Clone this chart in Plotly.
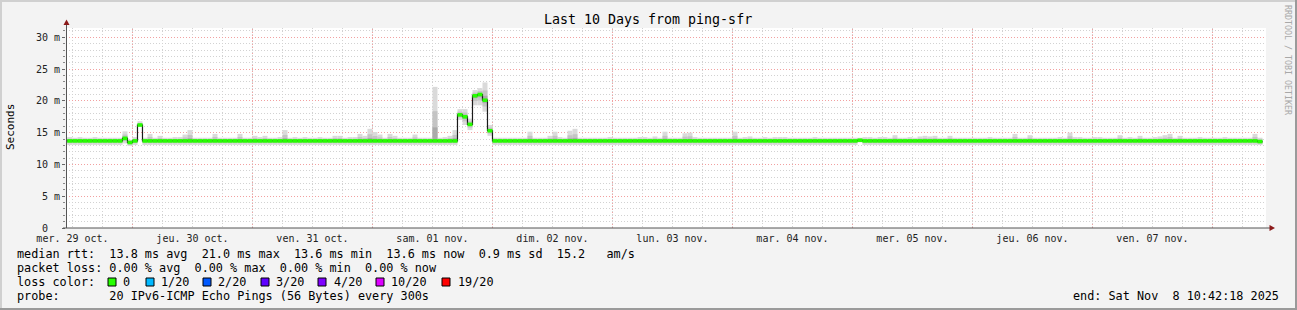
import plotly.graph_objects as go
import pandas as pd

W, H = 1297, 310
L, R, T, B = 66, 1266, 28, 228   # plot box in pixels


def px(x):
    return (x - L) / (R - L)


def py(y):
    return (B - y) / (B - T)


# ---------------- data (ms), hourly steps starting 2025-10-29 10:00 ----------------
step_start = pd.date_range("2025-10-29 10:00", periods=240, freq="h")

median_ms = [
    13.7, 13.7, 13.7, 13.7, 13.7, 13.7, 13.7, 13.7, 13.7, 13.7, 13.7, 13.7,
    14.1, 13.45, 13.7, 16.2, 13.7, 13.7, 13.7, 13.7, 13.7, 13.7, 13.7, 13.7,
    13.7, 13.7, 13.7, 13.7, 13.7, 13.7, 13.7, 13.7, 13.7, 13.7, 13.7, 13.7,
    13.7, 13.7, 13.7, 13.7, 13.7, 13.7, 13.7, 13.7, 13.7, 13.7, 13.7, 13.7,
    13.7, 13.7, 13.7, 13.7, 13.7, 13.7, 13.7, 13.7, 13.7, 13.7, 13.7, 13.7,
    13.7, 13.7, 13.7, 13.7, 13.7, 13.7, 13.7, 13.7, 13.7, 13.7, 13.7, 13.7,
    13.7, 13.7, 13.7, 13.7, 13.7, 13.7, 13.7, 17.8, 17.5, 16.3, 20.8, 21.0,
    20.1, 15.3, 13.7, 13.7, 13.7, 13.7, 13.7, 13.7, 13.7, 13.7, 13.7, 13.7,
    13.7, 13.7, 13.7, 13.7, 13.7, 13.7, 13.7, 13.7, 13.7, 13.7, 13.7, 13.7,
    13.7, 13.7, 13.7, 13.7, 13.7, 13.7, 13.7, 13.7, 13.7, 13.7, 13.7, 13.7,
    13.7, 13.7, 13.7, 13.7, 13.7, 13.7, 13.7, 13.7, 13.7, 13.7, 13.7, 13.7,
    13.7, 13.7, 13.7, 13.7, 13.7, 13.7, 13.7, 13.7, 13.7, 13.7, 13.7, 13.7,
    13.7, 13.7, 13.7, 13.7, 13.7, 13.7, 13.7, 13.7, 13.7, 13.7, 13.7, 13.7,
    13.7, 13.7, 13.7, 13.8, 13.7, 13.7, 13.7, 13.7, 13.7, 13.7, 13.7, 13.7,
    13.7, 13.7, 13.7, 13.7, 13.7, 13.7, 13.7, 13.7, 13.7, 13.7, 13.7, 13.7,
    13.7, 13.7, 13.7, 13.7, 13.7, 13.7, 13.7, 13.7, 13.7, 13.7, 13.7, 13.7,
    13.7, 13.7, 13.7, 13.7, 13.7, 13.7, 13.7, 13.7, 13.7, 13.7, 13.7, 13.7,
    13.7, 13.7, 13.7, 13.7, 13.7, 13.7, 13.7, 13.7, 13.7, 13.7, 13.7, 13.7,
    13.7, 13.7, 13.7, 13.7, 13.7, 13.7, 13.7, 13.7, 13.7, 13.7, 13.7, 13.7,
    13.7, 13.7, 13.7, 13.7, 13.7, 13.7, 13.7, 13.7, 13.7, 13.7, 13.7, 13.6,
]

smoke_max = [
    14.3, 14.3, 14.2, 14.3, 14.2, 14.2, 14.3, 14.2, 14.2, 14.2, 14.2, 14.2,
    15.2, 13.9, 14.3, 16.8, 14.2, 14.8, 14.2, 14.5, 14.2, 14.2, 14.3, 14.3,
    14.7, 15.4, 14.2, 14.2, 14.2, 14.2, 14.8, 14.2, 14.2, 14.2, 14.2, 14.8,
    14.2, 14.2, 14.5, 14.3, 14.5, 14.2, 14.2, 14.3, 15.4, 14.2, 14.3, 14.2,
    14.3, 14.2, 14.2, 14.3, 14.2, 14.2, 14.5, 14.5, 14.2, 14.3, 14.3, 14.8,
    14.5, 15.6, 15.1, 14.7, 14.2, 14.8, 14.5, 14.2, 14.2, 14.2, 14.7, 14.2,
    14.2, 14.2, 22.2, 14.2, 14.3, 14.5, 15.4, 18.7, 18.7, 17.2, 21.7, 22.0,
    22.9, 16.2, 14.2, 14.2, 14.2, 14.2, 14.2, 14.2, 14.2, 15.15, 14.2, 14.2,
    14.2, 14.5, 15.15, 14.3, 14.2, 15.3, 15.6, 14.2, 14.2, 14.2, 14.2, 14.2,
    14.2, 14.3, 14.2, 14.2, 14.2, 14.2, 14.2, 14.3, 14.3, 14.2, 14.4, 14.2,
    15.15, 14.2, 14.2, 14.2, 14.9, 15.0, 14.3, 14.2, 14.2, 14.2, 14.2, 14.2,
    14.2, 14.2, 15.15, 14.2, 14.3, 14.4, 14.2, 14.2, 14.3, 14.2, 14.3, 14.3,
    14.3, 14.2, 14.2, 14.2, 14.2, 14.2, 14.3, 14.2, 14.2, 14.2, 14.2, 14.2,
    14.2, 14.2, 14.2, 14.2, 14.3, 14.3, 14.2, 14.3, 14.3, 14.2, 14.6, 14.2,
    14.2, 14.3, 14.2, 14.4, 14.5, 14.4, 14.5, 14.2, 14.2, 14.5, 14.2, 14.2,
    14.2, 14.2, 14.2, 14.2, 14.2, 14.3, 14.2, 14.2, 14.2, 14.2, 14.8, 14.2,
    14.2, 14.6, 14.2, 14.2, 14.2, 14.2, 14.2, 14.3, 14.2, 15.0, 14.3, 14.3,
    14.2, 14.2, 14.3, 14.3, 14.2, 14.2, 14.2, 14.6, 14.2, 14.3, 14.2, 14.5,
    14.2, 14.2, 14.3, 14.4, 14.6, 14.8, 14.2, 14.5, 14.2, 14.2, 14.2, 14.3,
    14.2, 14.2, 14.2, 14.2, 14.3, 14.2, 14.2, 14.2, 14.2, 14.2, 14.8, 14.2,
]

smoke_min = [
    13.05, 13.05, 13.05, 13.05, 13.05, 13.05, 13.05, 13.05, 13.05, 13.05, 13.05, 13.05,
    13.3, 12.9, 13.05, 15.9, 13.05, 13.05, 13.05, 13.05, 13.05, 13.05, 13.05, 13.05,
    13.05, 13.05, 13.05, 13.05, 13.05, 13.05, 13.05, 13.05, 13.05, 13.05, 13.05, 13.05,
    13.05, 13.05, 13.05, 13.05, 13.05, 13.05, 13.05, 13.05, 13.05, 13.05, 13.05, 13.05,
    13.05, 13.05, 13.05, 13.05, 13.05, 13.05, 13.05, 13.05, 13.05, 13.05, 13.05, 13.05,
    13.05, 13.05, 13.05, 13.05, 13.05, 13.05, 13.05, 13.05, 13.05, 13.05, 13.05, 13.05,
    13.05, 13.05, 13.05, 13.05, 13.05, 13.05, 13.05, 17.0, 16.2, 15.4, 19.3, 19.3,
    18.3, 14.5, 13.05, 13.05, 13.05, 13.05, 13.05, 13.05, 13.05, 13.05, 13.05, 13.05,
    13.05, 13.05, 13.05, 13.05, 13.05, 13.05, 13.05, 13.05, 13.05, 13.05, 13.05, 13.05,
    13.05, 13.05, 13.05, 13.05, 13.05, 13.05, 13.05, 13.05, 13.05, 13.05, 13.05, 13.05,
    13.05, 13.05, 13.05, 13.05, 13.05, 13.05, 13.05, 13.05, 13.05, 13.05, 13.05, 13.05,
    13.05, 13.05, 13.05, 13.05, 13.05, 13.05, 13.05, 13.05, 13.05, 13.05, 13.05, 13.05,
    13.05, 13.05, 13.05, 13.05, 13.05, 13.05, 13.05, 13.05, 13.05, 13.05, 13.05, 13.05,
    13.05, 13.05, 13.05, 13.5, 13.05, 13.05, 13.05, 13.05, 13.05, 13.05, 13.05, 13.05,
    13.05, 13.05, 13.05, 13.05, 13.05, 13.05, 13.05, 13.05, 13.05, 13.05, 13.05, 13.05,
    13.05, 13.05, 13.05, 13.05, 13.05, 13.05, 13.05, 13.05, 13.05, 13.05, 13.05, 13.05,
    13.05, 13.05, 13.05, 13.05, 13.05, 13.05, 13.05, 13.05, 13.05, 13.05, 13.05, 13.05,
    13.05, 13.05, 13.05, 13.05, 13.05, 13.05, 13.05, 13.05, 13.05, 13.05, 13.05, 13.05,
    13.05, 13.05, 13.05, 13.05, 13.05, 13.05, 13.05, 13.05, 13.05, 13.05, 13.05, 13.05,
    13.05, 13.05, 13.05, 13.05, 13.05, 13.05, 13.05, 13.05, 13.05, 13.05, 13.05, 13.05,
]

day_label_times = ["2025-10-29 12:00", "2025-10-30 12:00", "2025-10-31 12:00",
                   "2025-11-01 12:00", "2025-11-02 12:00", "2025-11-03 12:00",
                   "2025-11-04 12:00", "2025-11-05 12:00", "2025-11-06 12:00",
                   "2025-11-07 12:00"]
day_labels = ["mer. 29 oct.", "jeu. 30 oct.", "ven. 31 oct.", "sam. 01 nov.",
              "dim. 02 nov.", "lun. 03 nov.", "mar. 04 nov.", "mer. 05 nov.",
              "jeu. 06 nov.", "ven. 07 nov."]
midnights = ["2025-10-30", "2025-10-31", "2025-11-01", "2025-11-02", "2025-11-03",
             "2025-11-04", "2025-11-05", "2025-11-06", "2025-11-07", "2025-11-08"]
y_ticks = [0, 5, 10, 15, 20, 25, 30]
y_tick_text = ["0\u00a0\u00a0", "5 m", "10 m", "15 m", "20 m", "25 m", "30 m"]

title_text = "Last 10 Days from ping-sfr"
stats_rtt = "median rtt:  13.8 ms avg  21.0 ms max  13.6 ms min  13.6 ms now  0.9 ms sd  15.2   am/s"
stats_loss = "packet loss: 0.00 % avg  0.00 % max  0.00 % min  0.00 % now"
loss_label = "loss color:"
loss_names = ["0", "1/20", "2/20", "3/20", "4/20", "10/20", "19/20"]
loss_colors = ["#26ff00", "#00b8ff", "#0059ff", "#5e00ff", "#7e00ff", "#dd00ff", "#ff0000"]
probe_text = "probe:       20 IPv6-ICMP Echo Pings (56 Bytes) every 300s"
end_text = "end: Sat Nov  8 10:42:18 2025"

MONO = "DejaVu Sans Mono"


def nb(s):
    return s.replace(" ", "\u00a0")


fig = go.Figure()

# smoke (layers of decreasing width, increasing darkness)
centers = step_start + pd.Timedelta(minutes=30)
for frac, col in [(1.0, "#dadada"), (0.55, "#c4c4c4"), (0.25, "#aaaaaa")]:
    lo = [m - frac * (m - b) for m, b in zip(median_ms, smoke_min)]
    hi = [m + frac * (t - m) for m, t in zip(median_ms, smoke_max)]
    fig.add_bar(x=centers, y=[h - l for h, l in zip(hi, lo)], base=lo,
                width=3600000, marker=dict(color=col, line=dict(width=0)),
                hoverinfo="skip", showlegend=False)

# black step line of the median
edges = list(step_start) + [step_start[-1] + pd.Timedelta(hours=1)]
fig.add_scatter(x=edges, y=median_ms + [median_ms[-1]], mode="lines",
                line=dict(color="#1a1a1a", width=1.2, shape="hv"),
                hoverinfo="skip", showlegend=False)

# green (loss colour) segments on the median
gx, gy = [], []
for i, m in enumerate(median_ms):
    gx += [edges[i], edges[i + 1], None]
    gy += [m, m, None]
fig.add_scatter(x=gx, y=gy, mode="lines", line=dict(color=loss_colors[0], width=3.6),
                hoverinfo="skip", showlegend=False)

shapes = []
# red midnight grid
for d in midnights:
    shapes.append(dict(type="line", xref="x", yref="paper", x0=d, x1=d, y0=0, y1=1,
                       line=dict(color="#f2a0a0", width=1, dash="1px,2px"), layer="between"))
# axis lines and arrows
axc = "#555555"
arc = "#8b1a1a"
shapes.append(dict(type="line", xref="paper", yref="paper", x0=px(66.5), x1=px(66.5),
                   y0=py(228), y1=py(24), line=dict(color=axc, width=1)))
shapes.append(dict(type="line", xref="paper", yref="paper", x0=px(63), x1=px(1270),
                   y0=py(228), y1=py(228), line=dict(color=axc, width=1)))
shapes.append(dict(type="path", xref="paper", yref="paper",
                   path=f"M {px(66.5)},{py(19.5)} L {px(63.5)},{py(25)} L {px(69.5)},{py(25)} Z",
                   fillcolor=arc, line=dict(width=0)))
shapes.append(dict(type="path", xref="paper", yref="paper",
                   path=f"M {px(1275)},{py(228)} L {px(1269.5)},{py(225)} L {px(1269.5)},{py(231)} Z",
                   fillcolor=arc, line=dict(width=0)))
# 3D frame
shapes.append(dict(type="rect", xref="paper", yref="paper", x0=px(0), x1=px(W), y0=py(0), y1=py(2),
                   fillcolor="#d0d0d0", line=dict(width=0)))
shapes.append(dict(type="rect", xref="paper", yref="paper", x0=px(0), x1=px(2), y0=py(0), y1=py(H),
                   fillcolor="#d0d0d0", line=dict(width=0)))
shapes.append(dict(type="rect", xref="paper", yref="paper", x0=px(0), x1=px(W), y0=py(H - 2), y1=py(H),
                   fillcolor="#9a9a9a", line=dict(width=0)))
shapes.append(dict(type="rect", xref="paper", yref="paper", x0=px(W - 2), x1=px(W), y0=py(0), y1=py(H),
                   fillcolor="#9a9a9a", line=dict(width=0)))

# loss colour boxes
box_left = [108, 146, 203, 261, 318, 376, 442]
text_left = [122, 160, 217, 275, 333, 390, 457]
for bx, c in zip(box_left, loss_colors):
    shapes.append(dict(type="rect", xref="paper", yref="paper", x0=px(bx), x1=px(bx + 8),
                       y0=py(286), y1=py(278), fillcolor=c, line=dict(color="#000000", width=1)))

ann = []
ann.append(dict(text=nb(title_text), x=px(648), y=py(19), xref="paper", yref="paper",
                xanchor="center", yanchor="middle", showarrow=False,
                font=dict(family=MONO, size=13.3, color="#000000")))
ann.append(dict(text="Seconds", x=px(10), y=py(127), xref="paper", yref="paper",
                xanchor="center", yanchor="middle", showarrow=False, textangle=-90,
                font=dict(family=MONO, size=11, color="#000000")))
ann.append(dict(text=nb("RRDTOOL / TOBI OETIKER"), x=px(1288), y=py(60), xref="paper", yref="paper",
                xanchor="center", yanchor="middle", showarrow=False, textangle=90,
                font=dict(family=MONO, size=8.3, color="#a8a8a8")))

LEG = 11.8
for txt, yy in [(stats_rtt, 254), (stats_loss, 268), (loss_label, 282), (probe_text, 296)]:
    ann.append(dict(text=nb(txt), x=px(15), y=py(yy), xref="paper", yref="paper",
                    xanchor="left", yanchor="middle", showarrow=False,
                    font=dict(family=MONO, size=LEG, color="#000000")))
for tl, name in zip(text_left, loss_names):
    ann.append(dict(text=name, x=px(tl - 1), y=py(282), xref="paper", yref="paper",
                    xanchor="left", yanchor="middle", showarrow=False,
                    font=dict(family=MONO, size=LEG, color="#000000")))
ann.append(dict(text=nb(end_text), x=px(1281), y=py(296), xref="paper", yref="paper",
                xanchor="right", yanchor="middle", showarrow=False,
                font=dict(family=MONO, size=LEG, color="#000000")))

grid_grey = "#d2d2d2"
fig.update_layout(
    width=W, height=H,
    margin=dict(l=L, r=W - R, t=T, b=H - B, pad=0),
    paper_bgcolor="#f3f3f3", plot_bgcolor="#ffffff",
    barmode="overlay", showlegend=False, hovermode=False,
    font=dict(family=MONO, size=10, color="#222222"),
    shapes=shapes, annotations=ann,
    xaxis=dict(type="date", range=["2025-10-29 10:42:18", "2025-11-08 10:42:18"],
               tickmode="array", tickvals=day_label_times, ticktext=day_labels,
               showgrid=True, gridcolor=grid_grey, griddash="1px,2px", gridwidth=1,
               ticks="", showline=False, zeroline=False, ticklabelstandoff=3,
               minor=dict(dtick=6 * 3600 * 1000, tick0="2025-10-29 00:00", showgrid=True,
                          gridcolor=grid_grey, griddash="1px,2px", gridwidth=1),
               tickfont=dict(family=MONO, size=10, color="#222222"), fixedrange=True),
    yaxis=dict(range=[0, 31.46], tickmode="array", tickvals=y_ticks, ticktext=y_tick_text,
               showgrid=True, gridcolor="#f2a0a0", griddash="1px,2px", gridwidth=1,
               zeroline=False, showline=False,
               ticks="outside", ticklen=3, tickcolor="#666666",
               minor=dict(dtick=1, tick0=0, showgrid=True, gridcolor=grid_grey,
                          griddash="1px,2px", gridwidth=1, ticks="outside", ticklen=2,
                          tickcolor="#888888"),
               tickfont=dict(family=MONO, size=10, color="#222222"), fixedrange=True),
)

fig.write_html("out.html")
